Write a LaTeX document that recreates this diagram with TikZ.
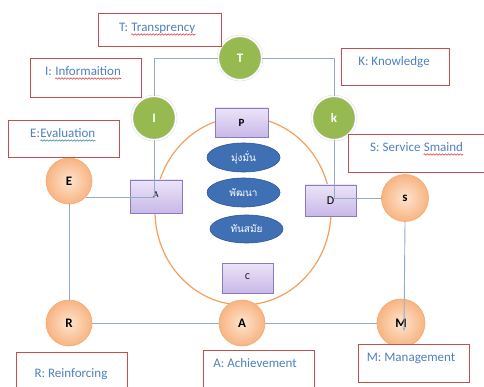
\documentclass[tikz,border=0pt]{standalone}
\usepackage{fontspec}
\setmainfont{Carlito}
\newfontfamily\thaifont[Script=Thai]{Loma}
\usetikzlibrary{arrows.meta,shapes.geometric,decorations.pathmorphing}
\definecolor{wavered}{RGB}{225,60,60}
\definecolor{wavegreen}{RGB}{80,150,170}
\definecolor{labred}{RGB}{192,80,77}
\definecolor{labblue}{RGB}{79,129,189}
\definecolor{greenC}{RGB}{150,186,80}
\definecolor{orIn}{RGB}{253,228,206}
\definecolor{orOut}{RGB}{248,180,130}
\definecolor{orLine}{RGB}{244,170,110}
\definecolor{purTop}{RGB}{236,228,248}
\definecolor{purBot}{RGB}{200,184,232}
\definecolor{purLine}{RGB}{140,122,190}
\definecolor{ellFill}{RGB}{64,112,180}
\definecolor{ellLine}{RGB}{47,85,151}
\definecolor{connC}{RGB}{145,170,205}
\definecolor{ringC}{RGB}{245,160,90}
\begin{document}
\begin{tikzpicture}[x=1pt,y=-1pt,
  gcirc/.style={circle,fill=greenC,draw=black!15,double=white,double distance=1.6pt,minimum size=44pt,inner sep=0pt,text=white,font=\fontsize{13}{13}\selectfont\bfseries},
  ocirc/.style={circle,shading=radial,inner color=orIn,outer color=orOut,draw=orLine,line width=0.6pt,minimum size=46pt,inner sep=0pt,font=\fontsize{13}{13}\selectfont\bfseries},
  pbox/.style={rectangle,top color=purTop,bottom color=purBot,draw=purLine,line width=0.6pt,inner sep=0pt},
  thaiell/.style={ellipse,fill=ellFill,draw=ellLine,line width=0.6pt,minimum width=73pt,minimum height=29pt,inner sep=0pt,text=white,font=\thaifont\fontsize{10}{10}\selectfont},
  labbox/.style={rectangle,draw=labred,line width=1pt,fill=white},
  labtext/.style={text=labblue,font=\fontsize{13}{14}\selectfont,inner sep=0pt},
  pre/.style={labtext,anchor=base west},
  word/.style={labtext,anchor=base west,xshift=2.9pt},
  wavy/.style={line width=0.6pt,decorate,decoration={snake,segment length=3pt,amplitude=0.7pt}},
  conn/.style={draw=connC,line width=0.9pt},
  ring/.style={draw=ringC,line width=1.2pt}
]
\useasboundingbox (0,0) rectangle (484,387);
\fill[white] (0,0) rectangle (484,387);
% orange ring
\draw[ring] (243,211) ellipse [x radius=88, y radius=94];
% purple boxes
\node[pbox,minimum width=53pt,minimum height=29pt] (PB) at (241.5,122.5) {\fontsize{11}{11}\selectfont\bfseries P};
\node[pbox,minimum width=52pt,minimum height=33pt] (AB) at (156,196.5) {\raisebox{3pt}{\fontsize{9}{9}\selectfont A}};
\node[pbox,minimum width=51pt,minimum height=31pt] (DB) at (330.5,200.5) {\fontsize{12}{12}\selectfont D};
\node[pbox,minimum width=51pt,minimum height=30pt] (CB) at (247.5,278) {\raisebox{3pt}{\fontsize{9}{9}\selectfont C}};
% Thai ellipses
\node[thaiell] (E1) at (243.5,157.5) {มุ่งมั่น};
\node[thaiell] (E2) at (243.5,192.5) {พัฒนา};
\node[thaiell,minimum height=28pt] (E3) at (246.5,229) {ทันสมัย};
% circles
\node[gcirc] (T) at (240,58) {T};
\node[gcirc] (I) at (154,118) {I};
\node[gcirc] (K) at (334,118) {k};
\node[ocirc] (E) at (69,181) {E};
\node[ocirc,minimum size=47pt] (S) at (405,198) {s};
\node[ocirc] (R) at (69,323) {R};
\node[ocirc] (Ac) at (242,323) {A};
\node[ocirc,minimum size=48pt] (M) at (401,323) {M};
% connectors
\draw[conn] (T.west) -| (I.north);
\draw[conn] (I.south) |- (E.-44);
\draw[conn] (T.east) -| (K.north);
\draw[conn] (K.south) |- (S.west);
\coordinate (mtip) at (404,331);
\draw[conn,-{Stealth[length=4pt,width=3pt]}] (S.south) -- (mtip);
\draw[conn] (R.north) -- (E.south);
\draw[conn] (R.east) -- (Ac.west);
\draw[conn] (Ac.east) -- (M.west);
% label boxes
\node[labbox,anchor=north west,minimum width=123pt,minimum height=33pt] (TL) at (98,13) {};
\node[pre] (TLa) at (119,32) {T:};
\node[word] (TLw) at (TLa.base east) {Transprency};
\draw[wavy,wavered] ([yshift=-2.5pt]TLw.base west) -- ([yshift=-2.5pt]TLw.base east);
\node[labbox,anchor=north west,minimum width=111pt,minimum height=39pt] (IL) at (30,58) {};
\node[pre] (ILa) at (45,76) {I:};
\node[word] (ILw) at (ILa.base east) {Informaition};
\draw[wavy,wavered] ([yshift=-2.5pt]ILw.base west) -- ([yshift=-2.5pt]ILw.base east);
\node[labbox,anchor=north west,minimum width=111pt,minimum height=37pt] (EL) at (8,120) {};
\node[pre] (ELa) at (30,138) {E:};
\node[pre] (ELw) at (ELa.base east) {Evaluation};
\draw[wavy,wavegreen] ([yshift=-2.5pt]ELw.base west) -- ([yshift=-2.5pt]ELw.base east);
\node[labbox,anchor=north west,minimum width=108pt,minimum height=37pt] (KL) at (341,48) {};
\node[labtext] (KLt) at (394,62) {K: Knowledge};
\node[labbox,anchor=north west,minimum width=142pt,minimum height=38pt] (SL) at (348,134) {};
\node[pre] (SLa) at (370,152) {S: Service};
\node[word] (SLw) at (SLa.base east) {Smaind};
\draw[wavy,wavered] ([yshift=-2.5pt]SLw.base west) -- ([yshift=-2.5pt]SLw.base east);
\node[labbox,anchor=north west,minimum width=111pt,minimum height=45pt] (RL) at (16,352) {};
\node[labtext] (RLt) at (71,374) {R: Reinforcing};
\node[labbox,anchor=north west,minimum width=111pt,minimum height=45pt] (AL) at (203,350) {};
\node[labtext] (ALt) at (255,363) {A: Achievement};
\node[labbox,anchor=north west,minimum width=111pt,minimum height=38pt] (ML) at (358,344) {};
\node[labtext] (MLt) at (411,358) {M: Management};
\end{tikzpicture}
\end{document}
